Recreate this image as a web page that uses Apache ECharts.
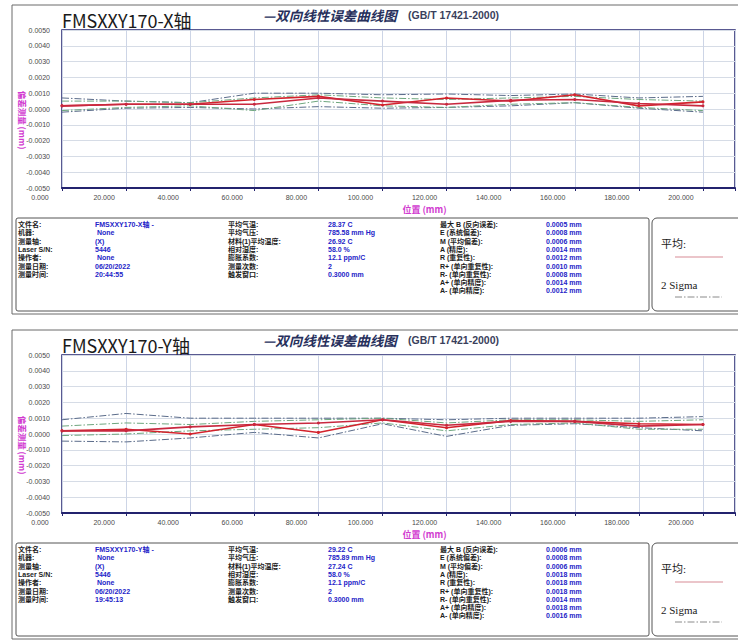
<!DOCTYPE html>
<html><head><meta charset="utf-8">
<script src="https://cdn.jsdelivr.net/npm/echarts@6/dist/echarts.min.js"></script>
<style>html,body{margin:0;padding:0;background:#fff;}#c{width:738px;height:640px;}</style>
</head><body><div id="c"></div>
<script>
// ---------- data ----------
const positions = [7, 27, 47, 67, 87, 107, 127, 147, 167, 187, 207];
const xTickLabels = ['0.000','20.000','40.000','60.000','80.000','100.000','120.000','140.000','160.000','180.000','200.000'];
const panelTitles = ['FMSXXY170-X轴', 'FMSXXY170-Y轴'];
const chartHeader = '—双向线性误差曲线图';
const chartStandard = '(GB/T 17421-2000)';
const xAxisName = '位置 (mm)';
const yAxisName = '偏差测量 (mm)';
const legendMean = '平均:';
const legendSigma = '2 Sigma';

// X axis panel
const xFwdMean  = [0.0002, 0.0003, 0.0003, 0.0006, 0.0008, 0.00025, 0.0007, 0.0005, 0.0009, 0.0002, 0.00045];
const xRevMean  = [0.0002, 0.0003, 0.0003, 0.0003, 0.0007, 0.0005, 0.0003, 0.00055, 0.0006, 0.00035, 0.0002];
const xFwdUpper = [0.0007, 0.0005, 0.0004, 0.0010, 0.0010, 0.0009, 0.00095, 0.00085, 0.00095, 0.0007, 0.0008];
const xFwdLower = [-0.0002, 0.00005, 0.0001, 0.0000, 0.00015, 0.00005, 0.0001, 0.0002, 0.0004, 0.00005, -0.0002];
const xRevUpper = [0.0005, 0.0005, 0.0004, 0.0007, 0.0009, 0.0007, 0.0006, 0.0007, 0.0008, 0.0006, 0.0005];
const xRevLower = [-0.0001, 0.0001, 0.0002, -0.0001, 0.0005, 0.0002, 0.0001, 0.0003, 0.0004, 0.0001, -0.0001];

// Y axis panel
const yFwdMean  = [0.0002, 0.0003, 0.0000, 0.0006, 0.0001, 0.0009, 0.0004, 0.00085, 0.0008, 0.00065, 0.0006];
const yRevMean  = [0.0002, 0.0002, 0.00045, 0.0006, 0.0007, 0.0009, 0.00055, 0.0008, 0.0008, 0.0005, 0.0006];
const yFwdUpper = [0.0009, 0.0013, 0.0010, 0.0010, 0.0010, 0.0010, 0.0009, 0.0010, 0.0010, 0.0010, 0.0011];
const yFwdLower = [-0.00045, -0.0005, -0.00025, 0.0001, -0.00025, 0.00065, -0.00015, 0.00055, 0.00065, 0.0004, 0.0002];
const yRevUpper = [0.0005, 0.0007, 0.0006, 0.0008, 0.0009, 0.0010, 0.0007, 0.0009, 0.0009, 0.0008, 0.0009];
const yRevLower = [-0.0001, 0.0000, 0.0002, 0.0003, 0.0004, 0.0007, 0.0002, 0.0006, 0.0007, 0.0003, 0.0003];

// info tables
const infoLabels = ['文件名:','机器:','测量轴:','Laser S/N:','操作者:','测量日期:','测量时间:'];
const infoValuesX = ['FMSXXY170-X轴 -','\u00a0None','(X)','5446','\u00a0None','06/20/2022','20:44:55'];
const infoValuesY = ['FMSXXY170-Y轴 -','\u00a0None','(X)','5446','\u00a0None','06/20/2022','19:45:13'];
const envLabels = ['平均气温:','平均气压:','材料(1)平均温度:','相对湿度:','膨胀系数:','测量次数:','触发窗口:'];
const envValuesX = ['28.37 C','785.58 mm Hg','26.92 C','58.0 %','12.1 ppm/C','2','0.3000 mm'];
const envValuesY = ['29.22 C','785.89 mm Hg','27.24 C','58.0 %','12.1 ppm/C','2','0.3000 mm'];
const statLabels = ['最大 B (反向误差):','E (系统偏差):','M (平均偏差):','A (精度):','R (重复性):','R+ (单向重复性):','R- (单向重复性):','A+ (单向精度):','A- (单向精度):'];
const statValuesX = ['0.0005 mm','0.0008 mm','0.0006 mm','0.0014 mm','0.0012 mm','0.0010 mm','0.0008 mm','0.0014 mm','0.0012 mm'];
const statValuesY = ['0.0006 mm','0.0008 mm','0.0006 mm','0.0018 mm','0.0018 mm','0.0018 mm','0.0014 mm','0.0018 mm','0.0016 mm'];

// ---------- styling / build ----------
const NAVY = '#23236e';
const MEAN_A = '#d3222c', MEAN_B = '#c8283e';
const SIG_A = '#5b6c8a', SIG_B = '#6ea67e';
const DASHDOT = [7, 2, 1.5, 2];
const LABEL_FONT = 'bold 7px "Liberation Sans", "Noto Sans CJK SC", sans-serif';
const VALUE_FONT = 'bold 7px "Liberation Sans", "Noto Sans CJK SC", sans-serif';

const panels = [
  { off: 0, title: panelTitles[0], fm: xFwdMean, rm: xRevMean, fu: xFwdUpper, fl: xFwdLower, ru: xRevUpper, rl: xRevLower,
    iv: infoValuesX, ev: envValuesX, sv: statValuesX },
  { off: 325, title: panelTitles[1], fm: yFwdMean, rm: yRevMean, fu: yFwdUpper, fl: yFwdLower, ru: yRevUpper, rl: yRevLower,
    iv: infoValuesY, ev: envValuesY, sv: statValuesY }
];

const grids = [], xAxes = [], yAxes = [], series = [], graphics = [];

function pts(vals) { return positions.map((p, i) => [p, vals[i]]); }

function txt(x, y, text, font, fill, align) {
  return { type: 'text', x: x, y: y, silent: true,
    style: { text: text, font: font, fill: fill, textAlign: align || 'left', textVerticalAlign: 'middle' } };
}

panels.forEach((P, k) => {
  const o = P.off;
  grids.push({ left: 62, top: 30 + o, width: 714, height: 158, show: true,
    borderColor: NAVY, borderWidth: 1.5, backgroundColor: '#fff' });
  xAxes.push({
    type: 'value', gridIndex: k, min: 7, max: 217, interval: 20,
    name: xAxisName, nameLocation: 'middle', nameGap: 17,
    nameTextStyle: { color: '#d13ad0', fontSize: 9, fontWeight: 'bold', fontFamily: 'Noto Sans CJK SC', padding: [0, 0, 0, 52] },
    axisLine: { show: true, onZero: false, lineStyle: { color: NAVY, width: 2 } },
    axisTick: { show: true, length: 3, inside: false, lineStyle: { color: NAVY } },
    axisLabel: { show: true, showMinLabel: true, hideOverlap: false, fontSize: 7, color: '#4a4a4a',
      fontFamily: 'Liberation Sans', margin: 6, align: 'center', padding: [0, 44, 0, 0],
      formatter: (v, idx) => (xTickLabels[idx] !== undefined ? xTickLabels[idx] : '') },
    splitLine: { show: true, lineStyle: { color: '#cdd5e6', width: 1 } }
  });
  yAxes.push({
    type: 'value', gridIndex: k, min: -0.005, max: 0.005, interval: 0.001,
    name: yAxisName, nameLocation: 'middle', nameRotate: -90, nameGap: 35, nameMoveOverlap: false,
    nameTextStyle: { color: '#d13ad0', fontSize: 8.5, fontWeight: 'bold', fontFamily: 'Noto Sans CJK SC', padding: [0, 0, 0, 22] },
    axisLine: { show: false }, axisTick: { show: false },
    axisLabel: { fontSize: 7, color: '#4a4a4a', fontFamily: 'Liberation Sans', margin: 12,
      formatter: v => v.toFixed(4) },
    splitLine: { show: true, lineStyle: { color: '#d6dce6', width: 1 } }
  });
  const base = { type: 'line', xAxisIndex: k, yAxisIndex: k, animation: false, silent: true, z: 3 };
  series.push(Object.assign({}, base, { name: '正向 +2σ', data: pts(P.fu), symbol: 'none', lineStyle: { color: SIG_A, width: 1, type: DASHDOT } }));
  series.push(Object.assign({}, base, { name: '正向 -2σ', data: pts(P.fl), symbol: 'none', lineStyle: { color: SIG_A, width: 1, type: DASHDOT } }));
  series.push(Object.assign({}, base, { name: '反向 +2σ', data: pts(P.ru), symbol: 'none', lineStyle: { color: SIG_B, width: 1, type: DASHDOT } }));
  series.push(Object.assign({}, base, { name: '反向 -2σ', data: pts(P.rl), symbol: 'none', lineStyle: { color: SIG_B, width: 1, type: DASHDOT } }));
  series.push(Object.assign({}, base, { name: '正向平均', data: pts(P.fm), symbol: 'circle', symbolSize: 3, z: 4,
    itemStyle: { color: MEAN_A }, lineStyle: { color: MEAN_A, width: 1.6 } }));
  series.push(Object.assign({}, base, { name: '反向平均', data: pts(P.rm), symbol: 'circle', symbolSize: 3, z: 4,
    itemStyle: { color: MEAN_B }, lineStyle: { color: MEAN_B, width: 1.6 } }));

  // frames
  graphics.push({ type: 'rect', silent: true, z: -10, shape: { x: 12, y: 5 + o, width: 740, height: 309 },
    style: { fill: 'none', stroke: '#6a6a6a', lineWidth: 1 } });
  graphics.push({ type: 'rect', silent: true, shape: { x: 16, y: 218 + o, width: 633, height: 93, r: 2 },
    style: { fill: 'none', stroke: '#555', lineWidth: 1 } });
  graphics.push({ type: 'rect', silent: true, shape: { x: 652, y: 218 + o, width: 100, height: 93, r: 5 },
    style: { fill: 'none', stroke: '#555', lineWidth: 1 } });
  // titles
  graphics.push(txt(62, 20 + o, P.title, 'normal 18px "Noto Sans CJK SC", sans-serif', '#1a1a1a'));
  graphics.push(txt(263, 15 + o, chartHeader, 'italic bold 13.5px "Noto Sans CJK SC", sans-serif', '#27305c'));
  graphics.push(txt(408, 15 + o, chartStandard, 'bold 10.5px "Liberation Sans", sans-serif', '#3a3f5c'));
  // tables
  const rowY = i => Math.round(224 + o + i * 8.3);
  infoLabels.forEach((t, i) => {
    graphics.push(txt(18, rowY(i), t, LABEL_FONT, '#1c1c1c'));
    graphics.push(txt(95, rowY(i), P.iv[i], VALUE_FONT, '#2323c8'));
  });
  envLabels.forEach((t, i) => {
    graphics.push(txt(228, rowY(i), t, LABEL_FONT, '#1c1c1c'));
    graphics.push(txt(328, rowY(i), P.ev[i], VALUE_FONT, '#2323c8'));
  });
  statLabels.forEach((t, i) => {
    graphics.push(txt(440, rowY(i), t, LABEL_FONT, '#1c1c1c'));
    graphics.push(txt(546, rowY(i), P.sv[i], VALUE_FONT, '#2323c8'));
  });
  // legend
  graphics.push(txt(661, 244 + o, legendMean, 'normal 11px "Liberation Serif", "Noto Sans CJK SC", serif', '#1a1a1a'));
  graphics.push({ type: 'line', silent: true, shape: { x1: 675, y1: 257 + o, x2: 723, y2: 257 + o },
    style: { stroke: '#d88c96', lineWidth: 1.2 } });
  graphics.push(txt(661, 285 + o, legendSigma, 'normal 11px "Liberation Serif", serif', '#1a1a1a'));
  graphics.push({ type: 'line', silent: true, shape: { x1: 675, y1: 297 + o, x2: 722, y2: 297 + o },
    style: { stroke: '#8a8a8a', lineWidth: 1, lineDash: DASHDOT } });
});

const chart = echarts.init(document.getElementById('c'), null, { renderer: 'svg', width: 738, height: 640 });
chart.setOption({
  animation: false,
  backgroundColor: '#fff',
  grid: grids, xAxis: xAxes, yAxis: yAxes, series: series,
  graphic: { elements: graphics }
});
</script>
</body></html>
